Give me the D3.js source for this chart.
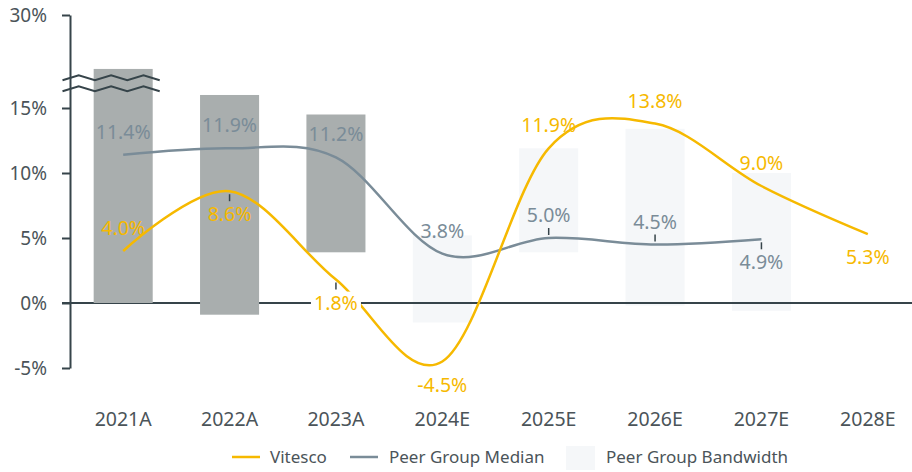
<!DOCTYPE html>
<html>
<head>
<meta charset="utf-8">
<script src="https://cdn.jsdelivr.net/npm/d3@7"></script>
<style>
  body { margin: 0; background: #fff; }
  svg text { font-family: "Noto Sans", sans-serif; }
</style>
</head>
<body>
<svg id="chart" width="912" height="472"></svg>
<script>
// data (values in %)
const categories = ["2021A", "2022A", "2023A", "2024E", "2025E", "2026E", "2027E", "2028E"];
const vitesco = [4.0, 8.6, 1.8, -4.5, 11.9, 13.8, 9.0, 5.3];
const peerMedian = [11.4, 11.9, 11.2, 3.8, 5.0, 4.5, 4.9, null];
const bandLow = [0, -0.9, 3.9, -1.5, 3.9, -0.2, -0.6, null];
const bandHigh = [21.3, 17.1, 14.5, 5.2, 11.9, 13.4, 10.0, null];
const yTicks = [-5, 0, 5, 10, 15, 30];

// label placement
const vitescoSide = [-1, 1, 1, 1, -1, -1, -1, 1];
const vitescoTick = [0, 1, 1, 0, 0, 0, 0, 0];
const peerSide = [-1, -1, -1, -1, -1, -1, 1];
const peerTick = [0, 0, 0, 0, 1, 1, 1];

const yellow = "#f6b900";
const slate = "#7a8c98";
const dark = "#36444a";
const textGrey = "#4b5459";

const svg = d3.select("#chart");

const x = d3.scaleBand()
  .domain(categories)
  .range([70, 921])
  .paddingInner(0.445)
  .paddingOuter(0.2225);
const cx = (c) => x(c) + x.bandwidth() / 2;

// broken axis: 15%..30% is compressed
const y = d3.scaleLinear().domain([-5, 15, 30]).range([368, 108, 15]);

const bands = categories.map((c, i) => ({ c, lo: bandLow[i], hi: bandHigh[i] }))
  .filter((d) => d.hi != null);

// forecast bandwidth (light) behind everything
svg.append("g")
  .selectAll("rect")
  .data(bands.filter((d) => !d.c.endsWith("A")))
  .join("rect")
  .attr("x", (d) => x(d.c))
  .attr("width", x.bandwidth())
  .attr("y", (d) => y(d.hi))
  .attr("height", (d) => y(d.lo) - y(d.hi))
  .attr("fill", "#f5f7f9");

// zero line
svg.append("line")
  .attr("x1", 62).attr("x2", 912)
  .attr("y1", y(0)).attr("y2", y(0))
  .attr("stroke", dark).attr("stroke-width", 2);

// actual bandwidth (grey)
svg.append("g")
  .selectAll("rect")
  .data(bands.filter((d) => d.c.endsWith("A")))
  .join("rect")
  .attr("x", (d) => x(d.c))
  .attr("width", x.bandwidth())
  .attr("y", (d) => y(d.hi))
  .attr("height", (d) => y(d.lo) - y(d.hi))
  .attr("fill", "#a9aeae");

// y axis
const yAxis = svg.append("g")
  .attr("transform", "translate(70,0)")
  .call(d3.axisLeft(y).tickValues(yTicks).tickSize(8).tickSizeOuter(0)
    .tickPadding(15).tickFormat((d) => d + "%"));
yAxis.select(".domain").attr("stroke", dark).attr("stroke-width", 2);
yAxis.selectAll(".tick line").attr("stroke", dark).attr("stroke-width", 2);
yAxis.selectAll(".tick text").attr("fill", textGrey).attr("font-size", 19)
  .style("font-family", "'Noto Sans', sans-serif");

// axis break zigzags
const breakY = y(19);
const zig = (off) => {
  const pts = [];
  const x0 = 62.5, x1 = x(categories[0]) + x.bandwidth() + 7;
  const n = 6;
  for (let k = 0; k <= n; k++) {
    pts.push([x0 + (x1 - x0) * k / n, breakY + off + (k % 2 ? -5 : 0)]);
  }
  return d3.line()(pts);
};
[-3, 8].forEach((off) => {
  svg.append("path").attr("d", zig(off)).attr("fill", "none")
    .attr("stroke", dark).attr("stroke-width", 2);
});

// x axis labels
const xAxis = svg.append("g")
  .attr("transform", "translate(0,409)")
  .call(d3.axisBottom(x).tickSize(0).tickPadding(3));
xAxis.select(".domain").remove();
xAxis.selectAll(".tick text").attr("fill", textGrey).attr("font-size", 19.5)
  .style("font-family", "'Noto Sans', sans-serif");

// lines
const curve = d3.curveCardinal.tension(0);
const vData = categories.map((c, i) => ({ c, v: vitesco[i], i }));
const pData = categories.map((c, i) => ({ c, v: peerMedian[i], i })).filter((d) => d.v != null);

svg.append("path")
  .datum(pData)
  .attr("fill", "none").attr("stroke", slate).attr("stroke-width", 2.5)
  .attr("d", d3.line().x((d) => cx(d.c)).y((d) => y(d.v)).curve(curve));

svg.append("path")
  .datum(vData)
  .attr("fill", "none").attr("stroke", yellow).attr("stroke-width", 2.5)
  .attr("d", d3.line().x((d) => cx(d.c)).y((d) => y(d.v)).curve(curve));

// value labels
function drawLabels(data, side, ticks, color, bgIndex) {
  const g = svg.append("g");
  data.forEach((d) => {
    const px = cx(d.c), py = y(d.v), s = side[d.i];
    if (ticks[d.i]) {
      g.append("line")
        .attr("x1", px).attr("x2", px)
        .attr("y1", py + s * 3).attr("y2", py + s * 10)
        .attr("stroke", dark).attr("stroke-width", 1.5);
    }
    const ly = py + s * 23;
    if (bgIndex.includes(d.i)) {
      g.append("rect")
        .attr("x", px - 25).attr("y", ly - 11)
        .attr("width", 50).attr("height", 22)
        .attr("fill", "#fff");
    }
    g.append("text")
      .attr("x", px).attr("y", ly).attr("dy", "0.36em")
      .attr("text-anchor", "middle")
      .attr("font-size", 19.5)
      .attr("fill", color)
      .text(d.v.toFixed(1) + "%");
  });
}
drawLabels(pData, peerSide, peerTick, slate, []);
drawLabels(vData, vitescoSide, vitescoTick, yellow, [2]);

// legend
const legend = svg.append("g").attr("font-size", 17).attr("fill", textGrey);
legend.append("line").attr("x1", 232).attr("x2", 260).attr("y1", 457).attr("y2", 457)
  .attr("stroke", yellow).attr("stroke-width", 2.5);
legend.append("text").attr("x", 270).attr("y", 457).attr("dy", "0.35em").text("Vitesco");
legend.append("line").attr("x1", 350).attr("x2", 378).attr("y1", 457).attr("y2", 457)
  .attr("stroke", slate).attr("stroke-width", 2.5);
legend.append("text").attr("x", 389).attr("y", 457).attr("dy", "0.35em").text("Peer Group Median");
legend.append("rect").attr("x", 566).attr("y", 446).attr("width", 29).attr("height", 24)
  .attr("fill", "#f5f7f9");
legend.append("text").attr("x", 606).attr("y", 457).attr("dy", "0.35em").text("Peer Group Bandwidth");
</script>
</body>
</html>
